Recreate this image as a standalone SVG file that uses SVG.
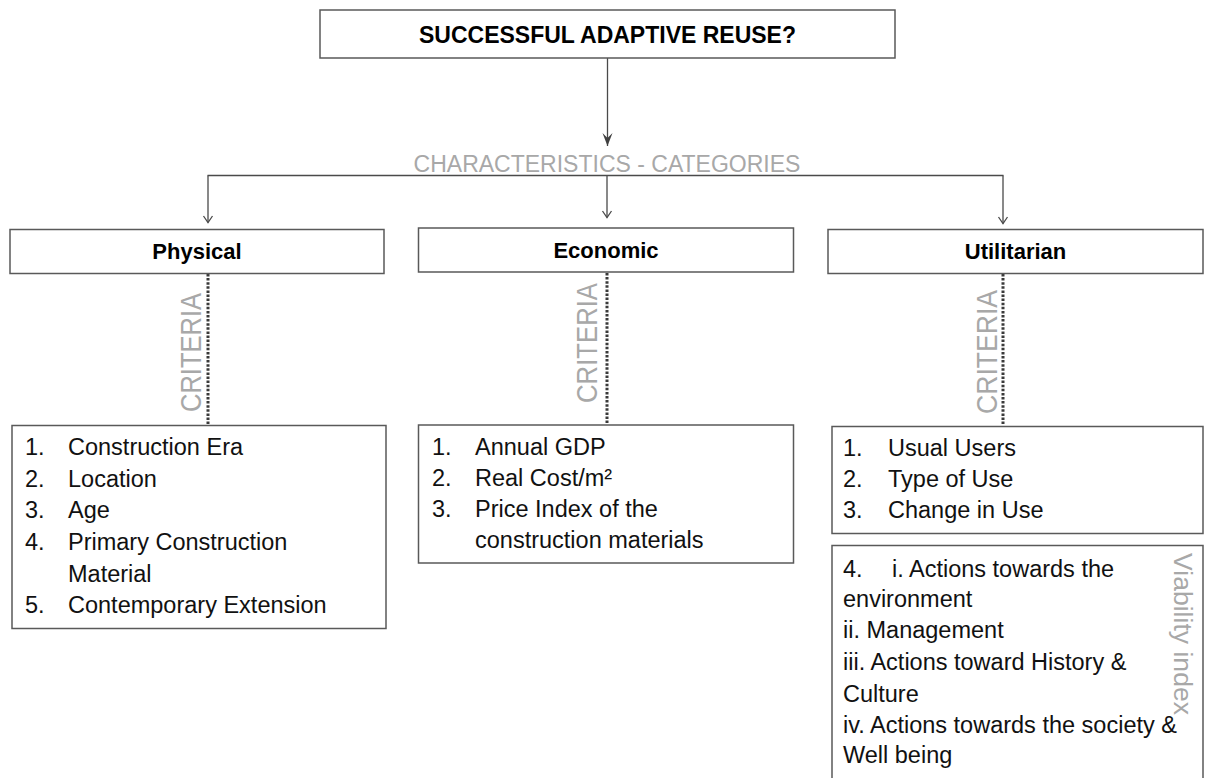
<svg xmlns="http://www.w3.org/2000/svg" width="1205" height="778" viewBox="0 0 1205 778">
<style>
.box{fill:#fff;stroke:#595959;stroke-width:1.5}
.title{font-family:"Liberation Sans",Arial,sans-serif;font-weight:bold;fill:#000;text-anchor:middle}
.item{font-family:"Liberation Sans",Arial,sans-serif;font-size:23.5px;fill:#111}
.gray{font-family:"Liberation Sans",Arial,sans-serif;fill:#a8a8a8}
.conn{stroke:#4a4a4a;stroke-width:1.3;fill:none}
.dot{stroke:#3a3a3a;stroke-width:3;stroke-dasharray:2.5 1.6;fill:none}
</style>
<defs>
<marker id="big" markerUnits="userSpaceOnUse" markerWidth="16" markerHeight="12" refX="14" refY="5" orient="auto" viewBox="0 0 16 10">
<path d="M1,0 L14,5 L1,10 L6,5 Z" fill="#404040"/>
</marker>
<marker id="small" markerUnits="userSpaceOnUse" markerWidth="10" markerHeight="12" refX="8" refY="6" orient="auto" viewBox="0 0 10 12">
<path d="M1.5,1.5 L8,6 L1.5,10.5" fill="none" stroke="#4a4a4a" stroke-width="1.3"/>
</marker>
</defs>
<rect width="1205" height="778" fill="#fff"/>

<g id="connectors">
<line class="conn" x1="607.5" y1="58" x2="607.5" y2="146" stroke-width="1.6" marker-end="url(#big)"/>
<line class="conn" x1="207.5" y1="175.5" x2="1003.5" y2="175.5" stroke-width="1.6"/>
<line class="conn" x1="208" y1="175.5" x2="208" y2="222.5" marker-end="url(#small)"/>
<line class="conn" x1="607" y1="175.5" x2="607" y2="217.5" stroke-width="2" marker-end="url(#small)"/>
<line class="conn" x1="1003" y1="175.5" x2="1003" y2="223.5" marker-end="url(#small)"/>
<line class="dot" x1="208" y1="274" x2="208" y2="424"/>
<line class="dot" x1="607" y1="273" x2="607" y2="424"/>
<line class="dot" x1="1003" y1="274" x2="1003" y2="425"/>
</g>

<g id="label-characteristics">
<text class="gray" x="607" y="172" font-size="23" text-anchor="middle">CHARACTERISTICS - CATEGORIES</text>
</g>

<g id="node-root">
<rect class="box" x="320" y="10" width="575" height="48"/>
<text class="title" x="607.5" y="43" font-size="23">SUCCESSFUL ADAPTIVE REUSE?</text>
</g>

<g id="node-physical">
<rect class="box" x="10" y="229.5" width="374" height="44"/>
<text class="title" x="197" y="259" font-size="22">Physical</text>
</g>
<g id="node-economic">
<rect class="box" x="418.5" y="228" width="375" height="44"/>
<text class="title" x="606" y="258" font-size="22">Economic</text>
</g>
<g id="node-utilitarian">
<rect class="box" x="828" y="229.5" width="375" height="44"/>
<text class="title" x="1015.5" y="259" font-size="22">Utilitarian</text>
</g>

<g id="label-criteria-physical">
<text class="gray" font-size="29" transform="translate(201,412) rotate(-90)" textLength="119" lengthAdjust="spacingAndGlyphs">CRITERIA</text>
</g>
<g id="label-criteria-economic">
<text class="gray" font-size="29" transform="translate(597,403) rotate(-90)" textLength="120" lengthAdjust="spacingAndGlyphs">CRITERIA</text>
</g>
<g id="label-criteria-utilitarian">
<text class="gray" font-size="29" transform="translate(997,414) rotate(-90)" textLength="124" lengthAdjust="spacingAndGlyphs">CRITERIA</text>
</g>

<g id="node-physical-criteria">
<rect class="box" x="12" y="425.5" width="374" height="203"/>
<text class="item" x="25" y="455">1.</text><text class="item" x="68" y="455">Construction Era</text>
<text class="item" x="25" y="487">2.</text><text class="item" x="68" y="487">Location</text>
<text class="item" x="25" y="518">3.</text><text class="item" x="68" y="518">Age</text>
<text class="item" x="25" y="550">4.</text><text class="item" x="68" y="550">Primary Construction</text>
<text class="item" x="68" y="582">Material</text>
<text class="item" x="25" y="613">5.</text><text class="item" x="68" y="613">Contemporary Extension</text>
</g>

<g id="node-economic-criteria">
<rect class="box" x="418.5" y="425" width="375" height="138"/>
<text class="item" x="432" y="455">1.</text><text class="item" x="475" y="455">Annual GDP</text>
<text class="item" x="432" y="486">2.</text><text class="item" x="475" y="486">Real Cost/m²</text>
<text class="item" x="432" y="517">3.</text><text class="item" x="475" y="517">Price Index of the</text>
<text class="item" x="475" y="548">construction materials</text>
</g>

<g id="node-utilitarian-criteria">
<rect class="box" x="832" y="426.5" width="371" height="107"/>
<text class="item" x="843" y="456">1.</text><text class="item" x="888" y="456">Usual Users</text>
<text class="item" x="843" y="487">2.</text><text class="item" x="888" y="487">Type of Use</text>
<text class="item" x="843" y="518">3.</text><text class="item" x="888" y="518">Change in Use</text>
</g>

<g id="node-viability-index">
<rect class="box" x="832" y="545.5" width="371" height="250"/>
<text class="gray" font-size="25" transform="translate(1174,553) rotate(90)" textLength="162" lengthAdjust="spacingAndGlyphs">Viability index</text>
<text class="item" x="843" y="577">4.</text><text class="item" x="892" y="577">i. Actions towards the</text>
<text class="item" x="843" y="607">environment</text>
<text class="item" x="843" y="638">ii. Management</text>
<text class="item" x="843" y="670">iii. Actions toward History &amp;</text>
<text class="item" x="843" y="702">Culture</text>
<text class="item" x="843" y="733">iv. Actions towards the society &amp;</text>
<text class="item" x="843" y="763">Well being</text>
</g>
</svg>
